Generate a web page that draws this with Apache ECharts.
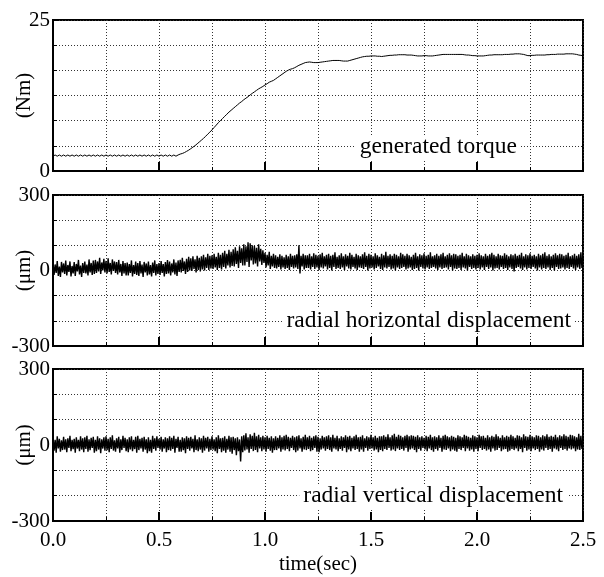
<!DOCTYPE html>
<html>
<head>
<meta charset="utf-8">
<script src="https://cdn.jsdelivr.net/npm/echarts@6/dist/echarts.min.js"></script>
<style>
html, body { margin: 0; padding: 0; background: #fff; }
#main { width: 604px; height: 577px; }
</style>
</head>
<body>
<div id="main"></div>
<script>
// sampling steps (sec)
var torqueStep = 0.01;
var dispStep = 0.005;

// generated torque (Nm), one value per 0.01 s, 0.00 .. 2.50
var torque = [
	2.45, 2.65, 2.45, 2.65, 2.45, 2.65, 2.45, 2.65, 2.45, 2.65,
	2.45, 2.65, 2.45, 2.65, 2.45, 2.65, 2.45, 2.65, 2.45, 2.65,
	2.45, 2.65, 2.45, 2.65, 2.45, 2.65, 2.45, 2.65, 2.45, 2.65,
	2.45, 2.65, 2.45, 2.65, 2.45, 2.65, 2.45, 2.65, 2.45, 2.65,
	2.45, 2.65, 2.45, 2.65, 2.45, 2.65, 2.45, 2.65, 2.45, 2.65,
	2.45, 2.65, 2.45, 2.65, 2.45, 2.65, 2.45, 2.65, 2.45, 2.65,
	2.8, 2.9, 3.05, 3.25, 3.45, 3.7, 3.95, 4.2, 4.5, 4.8,
	5.1, 5.4, 5.75, 6.1, 6.45, 6.8, 7.2, 7.6, 8.0, 8.35,
	8.7, 9.05, 9.4, 9.75, 10.05, 10.35, 10.65, 10.95, 11.25, 11.5,
	11.8, 12.05, 12.3, 12.6, 12.85, 13.1, 13.35, 13.6, 13.8, 14.0,
	14.25, 14.45, 14.7, 14.85, 15.0, 15.25, 15.5, 15.75, 16.0, 16.25,
	16.5, 16.7, 16.85, 16.95, 17.1, 17.3, 17.5, 17.65, 17.8, 17.95,
	18.0, 18.05, 18.0, 17.95, 17.95, 17.95, 18.0, 18.05, 18.1, 18.15,
	18.2, 18.25, 18.3, 18.3, 18.3, 18.3, 18.25, 18.2, 18.2, 18.2,
	18.3, 18.4, 18.5, 18.6, 18.7, 18.8, 18.9, 18.95, 19.0, 19.0,
	19.05, 19.05, 19.05, 19.0, 19.0, 18.95, 19.0, 19.05, 19.1, 19.15,
	19.15, 19.2, 19.2, 19.25, 19.25, 19.25, 19.25, 19.2, 19.2, 19.2,
	19.15, 19.1, 19.05, 19.05, 19.05, 19.1, 19.1, 19.05, 19.05, 19.05,
	19.1, 19.15, 19.2, 19.25, 19.3, 19.3, 19.3, 19.3, 19.3, 19.3,
	19.3, 19.3, 19.3, 19.3, 19.25, 19.2, 19.2, 19.15, 19.1, 19.1,
	19.05, 19.05, 19.05, 19.05, 19.1, 19.15, 19.2, 19.2, 19.25, 19.25,
	19.25, 19.25, 19.25, 19.3, 19.3, 19.3, 19.35, 19.35, 19.4, 19.4,
	19.4, 19.35, 19.3, 19.2, 19.1, 19.1, 19.15, 19.15, 19.2, 19.2,
	19.2, 19.2, 19.2, 19.25, 19.25, 19.3, 19.3, 19.3, 19.35, 19.35,
	19.35, 19.35, 19.4, 19.4, 19.4, 19.4, 19.35, 19.3, 19.2, 19.15,
	19.1
];

// radial horizontal displacement (um), one value per 0.005 s
var radialH = [
	30, -18, 24, -10, 38, -22, 16, -26, 34, -8,
	28, -14, 40, -20, 22, -6, 36, -24, 18, -12,
	34, -22, 26, -4, 42, -16, 20, -26, 30, -10,
	36, -12, 24, -20, 44, -8, 30, -18, 40, -14,
	42, -10, 36, -4, 50, -14, 32, 0, 46, -8,
	38, -12, 48, -6, 30, -16, 44, -2, 36, -10,
	34, -16, 42, -8, 26, -22, 38, -12, 30, -20,
	32, -20, 26, -10, 40, -24, 22, -14, 36, -18,
	30, -22, 38, -12, 24, -26, 34, -8, 28, -20,
	36, -16, 22, -24, 32, -10, 40, -20, 26, -14,
	30, -18, 38, -10, 26, -24, 34, -14, 42, -12,
	36, -20, 28, -8, 44, -16, 32, -22, 40, -6,
	42, -8, 50, -2, 36, -14, 46, -6, 54, 0,
	48, -2, 56, 6, 44, -8, 58, 2, 50, -4,
	56, 4, 62, 0, 52, 10, 66, 2, 58, 8,
	60, 6, 66, 12, 54, 2, 70, 10, 62, 4,
	70, 14, 78, 8, 66, 20, 82, 12, 74, 18,
	84, 16, 92, 26, 78, 10, 96, 30, 88, 20,
	104, 20, 96, 34, 112, 14, 108, 40, 100, 24,
	98, 28, 90, 16, 104, 36, 86, 22, 80, 30,
	70, 12, 62, 20, 74, 6, 58, 16, 66, 10,
	60, 8, 54, 14, 64, 4, 58, 12, 52, 6,
	62, 10, 56, 2, 66, 14, 58, 8, 60, 12,
	64, 6, 100, -12, 58, 16, 66, 4, 60, 10,
	60, 10, 66, 4, 56, 14, 68, 6, 62, 12,
	58, 2, 64, 12, 70, 8, 56, 16, 62, 4,
	66, 10, 58, 0, 62, 14, 72, 6, 54, 10,
	60, 6, 68, 12, 56, 2, 64, 16, 58, 8,
	70, 4, 62, 14, 54, 8, 66, 2, 60, 12,
	56, 10, 64, 6, 72, 14, 58, 0, 66, 8,
	62, 12, 56, 4, 68, 10, 60, 16, 54, 6,
	66, 2, 60, 12, 74, 8, 58, 14, 64, 4,
	58, 8, 66, 0, 62, 12, 56, 6, 70, 10,
	64, 14, 58, 4, 66, 8, 60, 12, 54, 2,
	62, 6, 70, 10, 56, 0, 64, 14, 60, 8,
	68, 4, 58, 12, 62, 6, 72, 10, 56, 14,
	60, 8, 66, 2, 58, 12, 64, 6, 70, 10,
	56, 12, 62, 4, 68, 14, 60, 0, 66, 8,
	64, 6, 58, 10, 62, 2, 70, 12, 56, 8,
	66, 0, 60, 14, 56, 6, 64, 10, 58, 4,
	62, 10, 68, 4, 60, 12, 56, 2, 66, 14,
	58, 6, 64, 12, 70, 0, 62, 8, 56, 10,
	66, 4, 60, 14, 58, 6, 68, 10, 62, 2,
	56, 12, 64, 6, 60, -4, 66, 10, 58, 14,
	62, 8, 70, 2, 56, 12, 64, 4, 60, 10,
	68, 6, 58, 14, 62, 8, 56, 0, 66, 12,
	60, 4, 66, 10, 72, 6, 58, 12, 64, 2,
	56, 10, 62, 0, 68, 14, 60, 6, 66, 8,
	64, 12, 58, 4, 62, 10, 70, 6, 56, 14,
	60, 8, 66, 2, 58, 12, 64, 6, 72, 10,
	50
];

// radial vertical displacement (um), one value per 0.005 s
var radialV = [
	28, -22, 20, -30, 34, -14, 24, -26, 18, -20,
	32, -18, 22, -28, 26, -12, 36, -24, 20, -16,
	24, -30, 30, -14, 20, -24, 34, -18, 26, -28,
	30, -16, 36, -26, 22, -20, 28, -12, 32, -30,
	20, -24, 34, -18, 26, -32, 22, -14, 30, -22,
	34, -20, 24, -28, 30, -16, 38, -22, 18, -26,
	26, -14, 32, -30, 22, -20, 36, -12, 28, -24,
	22, -28, 30, -18, 34, -24, 20, -16, 32, -30,
	36, -20, 24, -14, 28, -26, 32, -18, 22, -32,
	30, -24, 20, -30, 36, -16, 26, -22, 34, -12,
	24, -18, 32, -26, 22, -14, 30, -28, 26, -20,
	34, -22, 28, -16, 36, -30, 24, -12, 32, -26,
	20, -26, 30, -20, 26, -32, 34, -16, 28, -22,
	32, -14, 24, -28, 38, -20, 22, -24, 30, -18,
	26, -30, 36, -22, 28, -14, 32, -26, 24, -20,
	34, -18, 22, -24, 30, -32, 38, -16, 26, -28,
	28, -22, 34, -30, 24, -18, 36, -26, 30, -34,
	32, -20, 26, -40, 30, -24, 22, -65, 34, -28,
	38, -22, 46, -18, 30, -30, 42, -16, 36, -24,
	48, -20, 34, -28, 40, -14, 30, -24, 36, -18,
	30, -26, 36, -16, 28, -22, 34, -30, 26, -20,
	34, -20, 28, -14, 38, -26, 30, -18, 36, -22,
	40, -16, 32, -24, 28, -12, 36, -20, 30, -28,
	34, -22, 38, -14, 26, -26, 32, -18, 40, -20,
	30, -16, 36, -24, 28, -20, 34, -12, 38, -26,
	32, -28, 26, -18, 36, -14, 30, -22, 34, -16,
	38, -20, 30, -26, 40, -14, 28, -18, 36, -24,
	26, -16, 34, -22, 30, -12, 38, -28, 32, -18,
	36, -24, 28, -14, 34, -20, 40, -16, 30, -26,
	32, -18, 38, -26, 26, -12, 34, -22, 30, -16,
	40, -14, 30, -22, 36, -18, 28, -28, 34, -20,
	34, -24, 38, -16, 32, -20, 42, -12, 30, -22,
	38, -18, 44, -24, 32, -14, 40, -20, 36, -16,
	30, -22, 36, -12, 40, -26, 34, -18, 38, -14,
	36, -20, 32, -28, 38, -16, 30, -22, 34, -12,
	28, -18, 36, -24, 32, -14, 40, -20, 30, -26,
	34, -16, 30, -22, 38, -12, 28, -26, 36, -18,
	40, -20, 34, -14, 30, -24, 36, -18, 32, -22,
	28, -26, 38, -16, 34, -20, 30, -12, 40, -24,
	36, -14, 32, -22, 28, -18, 38, -26, 34, -16,
	30, -24, 40, -12, 34, -20, 36, -16, 28, -22,
	38, -18, 30, -26, 36, -14, 32, -22, 42, -20,
	34, -12, 28, -24, 38, -18, 30, -16, 36, -26,
	32, -22, 40, -16, 34, -20, 28, -14, 38, -24,
	36, -16, 30, -28, 42, -12, 34, -22, 32, -18,
	40, -24, 34, -14, 30, -20, 38, -16, 36, -26,
	30, -18, 38, -22, 34, -12, 42, -20, 32, -16,
	36, -26, 32, -14, 40, -18, 30, -24, 38, -12,
	34, -20, 42, -16, 36, -22, 32, -14, 40, -18,
	38, -14, 34, -24, 30, -18, 44, -20, 36, -16,
	30
];

// tick labels
var timeLabels = ['0.0', '0.5', '1.0', '1.5', '2.0', '2.5'];
var torqueLabels = [0, 25];
var dispLabels = [-300, 0, 300];

var serif = "'Liberation Serif', 'Times New Roman', serif";

function toPairs(arr, dt) {
	var out = [];
	for (var i = 0; i < arr.length; i++) {
		out.push([Math.round(i * dt * 1000) / 1000, arr[i]]);
	}
	return out;
}

function onlyLabels(list) {
	return function(v) {
		for (var i = 0; i < list.length; i++) {
			if (Math.abs(v - list[i]) < 0.01) {
				return String(list[i]);
			}
		}
		return '';
	};
}

function makeXAxis(idx, bottom) {
	return {
		type : 'value',
		gridIndex : idx,
		min : 0,
		max : 2.5,
		interval : 0.5,
		axisLine : { show : true, onZero : false, lineStyle : { color : '#000', width : 2 } },
		axisTick : { show : true, inside : true, length : 9, lineStyle : { color : '#000', width : 2 } },
		minorTick : { show : true, splitNumber : 2, length : 4, lineStyle : { color : '#000', width : 1 } },
		axisLabel : {
			show : bottom,
			margin : 9,
			color : '#000',
			fontFamily : serif,
			fontSize : 21,
			formatter : function(v) {
				return timeLabels[Math.round(v / 0.5)];
			}
		},
		splitLine : { show : true, lineStyle : { type : [1, 2], color : '#333', width : 1 } },
		minorSplitLine : { show : true, lineStyle : { type : [1, 2], color : '#333', width : 1 } },
		name : bottom ? 'time(sec)' : '',
		nameLocation : 'middle',
		nameGap : 33,
		nameMoveOverlap : false,
		nameTextStyle : { color : '#000', fontFamily : serif, fontSize : 21 }
	};
}

function makeYAxis(idx, min, max, interval, labels, name) {
	return {
		type : 'value',
		gridIndex : idx,
		min : min,
		max : max,
		interval : interval,
		axisLine : { show : true, onZero : false, lineStyle : { color : '#000', width : 2 } },
		axisTick : { show : true, inside : true, length : 4, lineStyle : { color : '#000', width : 1 } },
		axisLabel : {
			margin : 3,
			color : '#000',
			fontFamily : serif,
			fontSize : 21,
			formatter : onlyLabels(labels)
		},
		splitLine : { show : true, lineStyle : { type : [1, 2], color : '#333', width : 1 } },
		name : name,
		nameLocation : 'middle',
		nameGap : 18,
		nameMoveOverlap : false,
		nameTextStyle : { color : '#000', fontFamily : serif, fontSize : 21 }
	};
}

function note(text, right, middle) {
	return {
		type : 'text',
		z : 100,
		style : {
			text : text,
			x : right,
			y : middle,
			align : 'right',
			verticalAlign : 'middle',
			fill : '#000',
			font : '23.5px ' + serif,
			backgroundColor : '#fff',
			padding : [0, 4]
		}
	};
}

function makeGrid(top, height) {
	return {
		left : 53,
		right : 21,
		top : top,
		height : height,
		containLabel : false,
		outerBoundsMode : 'none',
		show : true,
		borderColor : '#000',
		borderWidth : 2
	};
}

var myChart = echarts.init(document.getElementById('main'));

var noiseStyle = { color : '#000', width : 1.4 };

var option = {
	animation : false,
	backgroundColor : '#fff',
	grid : [ makeGrid(20, 151), makeGrid(195, 151), makeGrid(369, 152) ],
	xAxis : [ makeXAxis(0, false), makeXAxis(1, false), makeXAxis(2, true) ],
	yAxis : [
		makeYAxis(0, 0, 25, 25 / 6, torqueLabels, '(Nm)'),
		makeYAxis(1, -300, 300, 100, dispLabels, '(\u03bcm)'),
		makeYAxis(2, -300, 300, 100, dispLabels, '(\u03bcm)')
	],
	series : [ {
		type : 'line',
		xAxisIndex : 0,
		yAxisIndex : 0,
		showSymbol : false,
		lineStyle : { color : '#000', width : 1 },
		data : toPairs(torque, torqueStep)
	}, {
		type : 'line',
		xAxisIndex : 1,
		yAxisIndex : 1,
		showSymbol : false,
		lineStyle : noiseStyle,
		data : toPairs(radialH, dispStep)
	}, {
		type : 'line',
		xAxisIndex : 2,
		yAxisIndex : 2,
		showSymbol : false,
		lineStyle : noiseStyle,
		data : toPairs(radialV, dispStep)
	} ],
	graphic : [
		note('generated torque', 521, 147),
		note('radial horizontal displacement', 575, 321),
		note('radial vertical displacement', 567, 496)
	]
};

myChart.setOption(option);
</script>
</body>
</html>
